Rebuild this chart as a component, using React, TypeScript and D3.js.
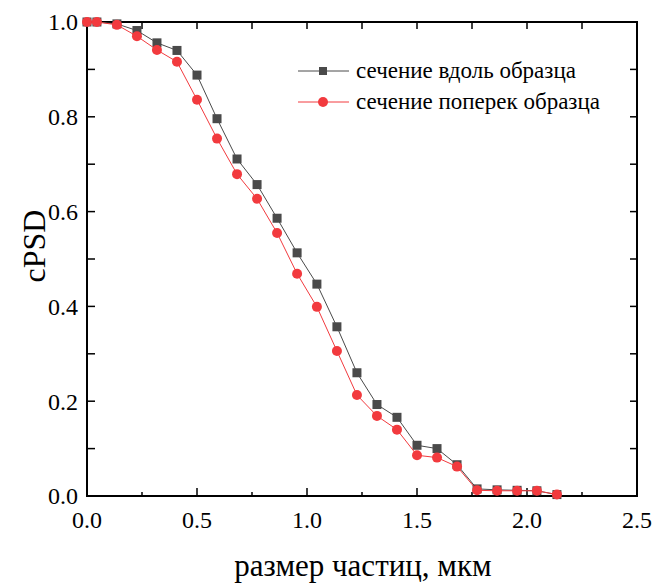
import { useEffect, useRef } from 'react';
import * as d3 from 'd3';

// particle size, um (bin centres)
const sizes = [0, 0.045, 0.136, 0.227, 0.318, 0.409, 0.5, 0.591, 0.682, 0.773, 0.864, 0.955,
  1.045, 1.136, 1.227, 1.318, 1.409, 1.5, 1.591, 1.682, 1.773, 1.864, 1.955, 2.045, 2.136];

// сечение вдоль образца
const alongValues = [1.0, 1.0, 0.996, 0.982, 0.956, 0.94, 0.888, 0.796, 0.711, 0.657, 0.586, 0.513,
  0.447, 0.357, 0.26, 0.193, 0.166, 0.107, 0.1, 0.066, 0.015, 0.013, 0.012, 0.011, 0.003];

// сечение поперек образца
const acrossValues = [1.0, 1.0, 0.994, 0.97, 0.941, 0.916, 0.836, 0.754, 0.679, 0.627, 0.555, 0.469,
  0.399, 0.306, 0.213, 0.169, 0.14, 0.086, 0.081, 0.062, 0.012, 0.011, 0.011, 0.011, 0.003];

const xTicks = [0, 0.5, 1.0, 1.5, 2.0, 2.5];
const yTicks = [0, 0.2, 0.4, 0.6, 0.8, 1.0];

const seriesNames = ['сечение вдоль образца', 'сечение поперек образца'];

export default function App() {
  const svgRef = useRef<SVGSVGElement>(null);

  useEffect(() => {
    if (!svgRef.current) return;
    const svg = d3.select(svgRef.current);
    svg.selectAll('*').remove();

    const width = 654;
    const height = 585;
    const margin = { top: 22, right: 17, bottom: 89, left: 87 };
    const black = '#4a4a4a';
    const red = '#f23a3e';

    const x = d3.scaleLinear().domain([0, 2.5]).range([margin.left, width - margin.right]);
    const y = d3.scaleLinear().domain([0, 1]).range([height - margin.bottom, margin.top]);

    const g = svg.append('g');

    // minor tick values
    const xMinor = d3.range(0, 2.51, 0.25);
    const yMinor = d3.range(0, 1.001, 0.1);

    // bottom axis
    const bottom = g.append('g').attr('transform', `translate(0,${y(0)})`);
    bottom.selectAll('line.tk')
      .data(xMinor)
      .enter()
      .append('line')
      .attr('x1', d => x(d))
      .attr('x2', d => x(d))
      .attr('y1', 0)
      .attr('y2', (d, i) => (i % 2 === 0 ? -8 : -4))
      .attr('stroke', '#000')
      .attr('stroke-width', 1.5);
    bottom.selectAll('text')
      .data(xTicks)
      .enter()
      .append('text')
      .attr('x', d => x(d))
      .attr('y', 32)
      .attr('text-anchor', 'middle')
      .attr('font-size', 24)
      .text(d => d.toFixed(1));

    // top axis
    g.append('g').selectAll('line')
      .data(xMinor)
      .enter()
      .append('line')
      .attr('x1', d => x(d))
      .attr('x2', d => x(d))
      .attr('y1', y(1))
      .attr('y2', y(1) + 7)
      .attr('stroke', '#000')
      .attr('stroke-width', 1.5);

    // left axis
    const left = g.append('g').attr('transform', `translate(${x(0)},0)`);
    left.selectAll('line')
      .data(yMinor)
      .enter()
      .append('line')
      .attr('x1', 0)
      .attr('x2', 8)
      .attr('y1', d => y(d))
      .attr('y2', d => y(d))
      .attr('stroke', '#000')
      .attr('stroke-width', 1.5);
    left.selectAll('text')
      .data(yTicks)
      .enter()
      .append('text')
      .attr('x', -9)
      .attr('y', d => y(d))
      .attr('dy', '0.35em')
      .attr('text-anchor', 'end')
      .attr('font-size', 24)
      .text(d => d.toFixed(1));

    // right axis
    g.append('g').selectAll('line')
      .data(yMinor)
      .enter()
      .append('line')
      .attr('x1', x(2.5))
      .attr('x2', x(2.5) - 7)
      .attr('y1', d => y(d))
      .attr('y2', d => y(d))
      .attr('stroke', '#000')
      .attr('stroke-width', 1.5);

    // frame
    g.append('rect')
      .attr('x', x(0))
      .attr('y', y(1))
      .attr('width', x(2.5) - x(0))
      .attr('height', y(0) - y(1))
      .attr('fill', 'none')
      .attr('stroke', '#000')
      .attr('stroke-width', 2);

    // axis titles
    svg.append('text')
      .attr('x', 363)
      .attr('y', 576)
      .attr('text-anchor', 'middle')
      .attr('font-size', 31)
      .text('размер частиц, мкм');

    svg.append('text')
      .attr('transform', 'translate(45,246) rotate(-90)')
      .attr('text-anchor', 'middle')
      .attr('font-size', 32)
      .text('cPSD');

    const line = d3.line<number>()
      .x((d, i) => x(sizes[i]))
      .y(d => y(d));

    // series 1: squares
    g.append('path')
      .datum(alongValues)
      .attr('d', line)
      .attr('fill', 'none')
      .attr('stroke', black)
      .attr('stroke-width', 1);
    g.selectAll('rect.sq')
      .data(alongValues)
      .enter()
      .append('rect')
      .attr('class', 'sq')
      .attr('x', (d, i) => x(sizes[i]) - 4.5)
      .attr('y', d => y(d) - 4.5)
      .attr('width', 9)
      .attr('height', 9)
      .attr('fill', black);

    // series 2: circles
    g.append('path')
      .datum(acrossValues)
      .attr('d', line)
      .attr('fill', 'none')
      .attr('stroke', red)
      .attr('stroke-width', 1);
    g.selectAll('circle.ci')
      .data(acrossValues)
      .enter()
      .append('circle')
      .attr('class', 'ci')
      .attr('cx', (d, i) => x(sizes[i]))
      .attr('cy', d => y(d))
      .attr('r', 5)
      .attr('fill', red);

    // legend
    const legend = svg.append('g').attr('transform', 'translate(298,71)');
    [0, 1].forEach(i => {
      const row = legend.append('g').attr('transform', `translate(0,${i * 31})`);
      row.append('line')
        .attr('x1', 0)
        .attr('x2', 51)
        .attr('y1', 0)
        .attr('y2', 0)
        .attr('stroke', i === 0 ? black : red)
        .attr('stroke-width', 1);
      if (i === 0) {
        row.append('rect')
          .attr('x', 25 - 4)
          .attr('y', -4)
          .attr('width', 8)
          .attr('height', 8)
          .attr('fill', black);
      } else {
        row.append('circle')
          .attr('cx', 25)
          .attr('cy', 0)
          .attr('r', 5)
          .attr('fill', red);
      }
      row.append('text')
        .attr('x', 58)
        .attr('y', 0)
        .attr('dy', '0.3em')
        .attr('font-size', 23)
        .text(seriesNames[i]);
    });
  }, []);

  return (
    <svg
      ref={svgRef}
      width={654}
      height={585}
      fontFamily="'Liberation Serif', serif"
      style={{ position: 'absolute', left: 0, top: 0, background: '#fff' }}
    />
  );
}
